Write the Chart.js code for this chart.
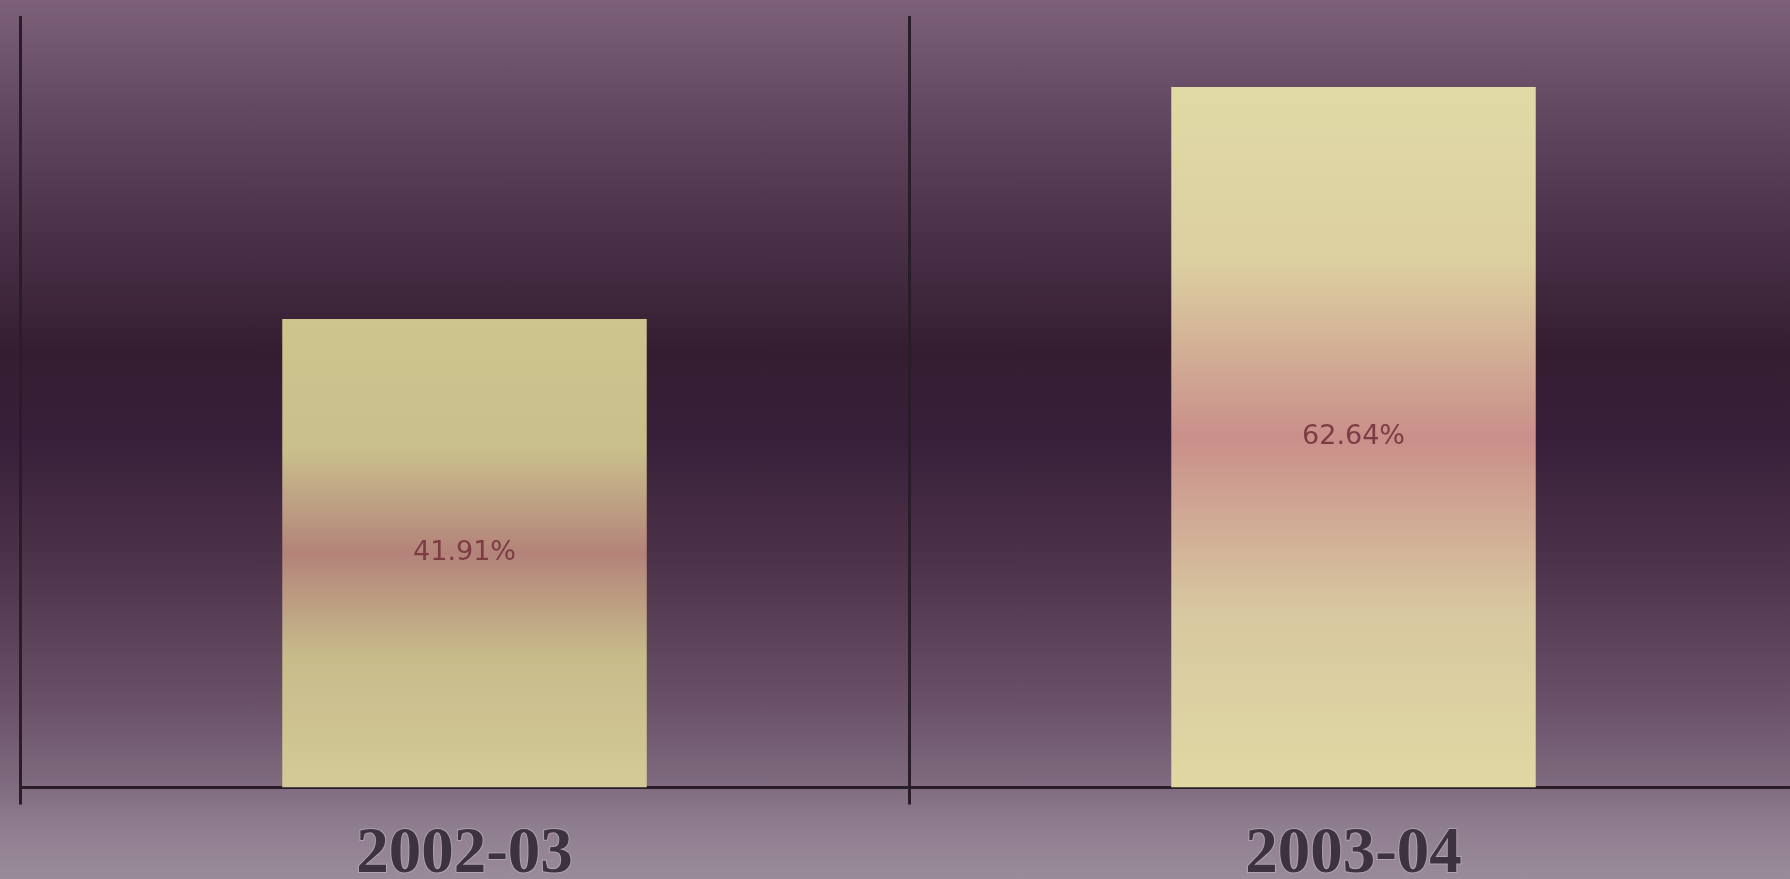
<!DOCTYPE html>
<html>
<head>
<meta charset="utf-8">
<title>2002-03 / 2003-04</title>
<script src="https://cdn.jsdelivr.net/npm/chart.js@4.4.1/dist/chart.umd.min.js"></script>
<style>
  html, body {
    margin: 0;
    padding: 0;
    overflow: hidden;
    width: 1790px;
    height: 879px;
  }
  body {
    background: linear-gradient(to bottom,
      #7c6179 0%,
      #634961 12%,
      #4b3249 26%,
      #351d31 40%,
      #38203a 50%,
      #4d3349 64%,
      #6a5168 80%,
      #7e6a7e 89%,
      #8c7b8c 93%,
      #9a8b9b 100%);
  }
  canvas { display: block; }
</style>
</head>
<body>
<canvas id="chart" width="1800" height="905"></canvas>
<script>
/* --- Data --- */
var CATEGORIES = ["2002-03", "2003-04"];
var VALUES = [41.91, 62.64];
var VALUE_LABELS = ["41.91%", "62.64%"];

(function () {
  "use strict";

  /* --- Styles --- */
  var LINE_COLOR = "#2a1d2a";
  var BAR_STOPS = [
    [[0, "#cdc48e"], [0.28, "#c9bf8b"], [0.5, "#b3837a"], [0.72, "#c7bb8a"], [1, "#d3ca97"]],
    [[0, "#e0daa6"], [0.25, "#dccfa0"], [0.5, "#c98f8a"], [0.75, "#d8c8a0"], [1, "#e0d8a3"]],
  ];

  function barFill(ctx) {
    var chart = ctx.chart;
    if (!chart.chartArea || ctx.type !== "data") return BAR_STOPS[0][0][1];
    var y = chart.scales.y;
    var top = y.getPixelForValue(ctx.raw);
    var bottom = y.getPixelForValue(0);
    var g = chart.ctx.createLinearGradient(0, top, 0, bottom);
    BAR_STOPS[ctx.dataIndex].forEach(function (s) {
      g.addColorStop(s[0], s[1]);
    });
    return g;
  }

  /* --- Value labels inside the bars --- */
  var valueLabels = {
    id: "valueLabels",
    afterDatasetsDraw: function (chart) {
      var c = chart.ctx;
      var meta = chart.getDatasetMeta(0);
      c.save();
      c.font = "27px 'DejaVu Sans'";
      c.fillStyle = "#7d3b44";
      c.textAlign = "center";
      c.textBaseline = "middle";
      meta.data.forEach(function (bar, i) {
        c.fillText(VALUE_LABELS[i], bar.x, (bar.y + bar.base) / 2);
      });
      c.restore();
    },
  };

  new Chart(document.getElementById("chart"), {
    type: "bar",
    data: {
      labels: CATEGORIES,
      datasets: [
        {
          data: VALUES,
          backgroundColor: barFill,
          borderWidth: 0,
          barPercentage: 0.41,
          categoryPercentage: 1,
        },
      ],
    },
    options: {
      responsive: false,
      animation: false,
      events: [],
      layout: { padding: { left: 20, right: 2, top: 16 } },
      plugins: {
        legend: { display: false },
        tooltip: { enabled: false },
      },
      scales: {
        x: {
          grid: {
            offset: true,
            color: LINE_COLOR,
            lineWidth: 3,
            tickLength: 17,
          },
          border: { display: true, color: LINE_COLOR, width: 3 },
          ticks: {
            padding: 21,
            color: "#3d3240",
            textStrokeColor: "rgba(210,195,210,0.45)",
            textStrokeWidth: 2,
            font: {
              family: "'Liberation Serif'",
              weight: "bold",
              size: 65,
              lineHeight: 0.9,
            },
          },
        },
        y: {
          display: false,
          min: 0,
          max: 69,
        },
      },
    },
    plugins: [valueLabels],
  });
})();
</script>
</body>
</html>
